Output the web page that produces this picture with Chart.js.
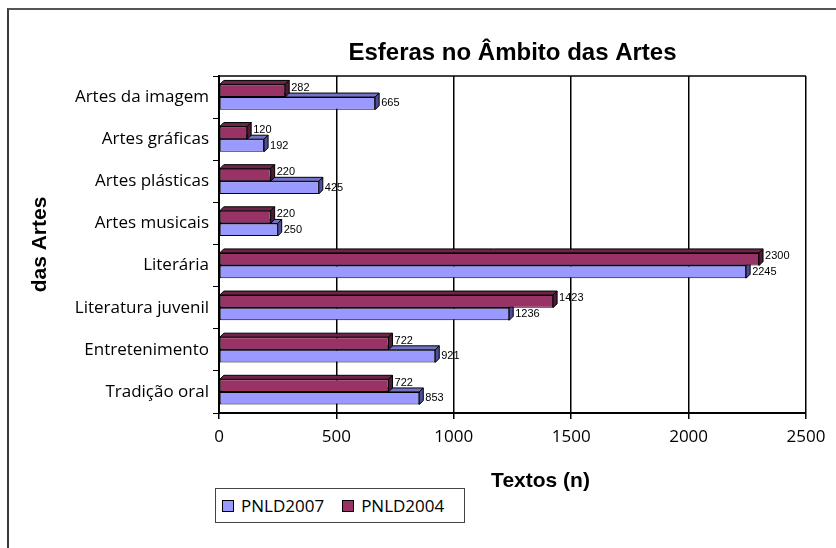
<!DOCTYPE html>
<html>
<head>
<meta charset="utf-8">
<script src="https://cdn.jsdelivr.net/npm/chart.js@4/dist/chart.umd.min.js"></script>
<style>
  html, body { margin:0; padding:0; background:#fff; overflow:hidden; }
  #frame { position:absolute; left:7px; top:8px; width:900px; height:600px;
           border-left:2px solid #3a3a3a; border-top:2px solid #555; }
  #wrap { position:absolute; left:0; top:0; width:836px; height:548px; }
  #legend { position:absolute; left:215px; top:488px; width:250px; height:35px;
            border:1px solid #444; background:#fff; font-family:"Open Sans", sans-serif;
            font-size:17px; color:#000; display:flex; align-items:center; box-sizing:border-box; padding-left:6px; }
  .item { display:flex; align-items:center; margin-right:18px; }
  .sw { width:10px; height:10px; border:1px solid #000; margin-right:7px; }
</style>
</head>
<body>
<div id="frame"></div>
<div id="wrap"><canvas id="c"></canvas></div>
<div id="legend"></div>
<script>
const categories = ["Artes da imagem","Artes gráficas","Artes plásticas","Artes musicais","Literária","Literatura juvenil","Entretenimento","Tradição oral"];
const pnld2004 = [282,120,220,220,2300,1423,722,722];
const pnld2007 = [665,192,425,250,2245,1236,921,853];
const xTicks = [0,500,1000,1500,2000,2500];
const chartTitle = "Esferas no Âmbito das Artes";
const xTitle = "Textos (n)";
const yTitle = "das Artes";

const styles = {
  PNLD2004: { front:"#993366", top:"#6e2449", side:"#4f1a35" },
  PNLD2007: { front:"#9999FF", top:"#7373c7", side:"#4d4d99" }
};
const depth = 4;

const bar3d = {
  id:"bar3d",
  beforeDatasetsDraw(chart){
    const {ctx, chartArea:a} = chart;
    ctx.save();
    ctx.strokeStyle="#000"; ctx.lineWidth=1.5;
    ctx.beginPath(); ctx.moveTo(a.left, a.top); ctx.lineTo(a.right, a.top); ctx.stroke();
    ctx.restore();
  },
  afterDatasetDraw(chart, args){
    const ctx = chart.ctx;
    const ds = chart.data.datasets[args.index];
    const st = styles[ds.label];
    ctx.save();
    ctx.strokeStyle="#000"; ctx.lineWidth=1;
    args.meta.data.forEach(bar=>{
      const p = bar.getProps(["x","y","base","height"], true);
      const top = p.y - p.height/2, bottom = p.y + p.height/2;
      ctx.beginPath();
      ctx.moveTo(p.base, top); ctx.lineTo(p.base+depth, top-depth);
      ctx.lineTo(p.x+depth, top-depth); ctx.lineTo(p.x, top); ctx.closePath();
      ctx.fillStyle = st.top; ctx.fill(); ctx.stroke();
      ctx.beginPath();
      ctx.moveTo(p.x, top); ctx.lineTo(p.x+depth, top-depth);
      ctx.lineTo(p.x+depth, bottom-depth); ctx.lineTo(p.x, bottom); ctx.closePath();
      ctx.fillStyle = st.side; ctx.fill(); ctx.stroke();
    });
    ctx.restore();
  },
  afterDatasetsDraw(chart){
    const ctx = chart.ctx;
    ctx.save();
    ctx.font = '11px "Liberation Sans", Arial, sans-serif';
    ctx.fillStyle = "#000"; ctx.textAlign="left"; ctx.textBaseline="middle";
    chart.data.datasets.forEach((ds,i)=>{
      chart.getDatasetMeta(i).data.forEach((bar,j)=>{
        const p = bar.getProps(["x","y"], true);
        ctx.fillText(String(ds.data[j]), p.x + depth + 2, p.y + (i===0 ? -3 : 0));
      });
    });
    ctx.restore();
  },
  afterDraw(chart){
    const {ctx, chartArea:a} = chart;
    ctx.save();
    ctx.fillStyle="#000"; ctx.textAlign="center"; ctx.textBaseline="middle";
    ctx.font = 'bold 24px "Liberation Sans", Arial, sans-serif';
    ctx.fillText(chartTitle, (a.left+a.right)/2, 53);
    ctx.font = 'bold 21px "Liberation Sans", Arial, sans-serif';
    ctx.fillText(xTitle, (a.left+a.right)/2 + 28, 481);
    ctx.restore();
  }
};

new Chart(document.getElementById("c"), {
  type:"bar",
  data:{
    labels:categories,
    datasets:[
      { label:"PNLD2004", data:pnld2004, backgroundColor:styles.PNLD2004.front, borderColor:"#000", borderWidth:1, borderSkipped:false },
      { label:"PNLD2007", data:pnld2007, backgroundColor:styles.PNLD2007.front, borderColor:"#000", borderWidth:1, borderSkipped:false }
    ]
  },
  plugins:[bar3d],
  options:{
    indexAxis:"y",
    responsive:true, maintainAspectRatio:false, animation:false,
    categoryPercentage:0.6, barPercentage:1,
    layout:{ padding:{ left:0, right:30, top:76, bottom:0 } },
    plugins:{ legend:{display:false}, title:{display:false}, tooltip:{enabled:false} },
    scales:{
      x:{
        min:0, max:2500,
        afterBuildTicks(s){ s.ticks = xTicks.map(v=>({value:v})); },
        ticks:{ color:"#000", padding:8, font:{ family:"Open Sans", size:17 }, callback:(v)=>String(v) },
        grid:{ color:"#000", lineWidth:1.5, drawTicks:true, tickLength:6, tickColor:"#000" },
        border:{ display:true, color:"#000", width:2 },
        afterFit(s){ s.height = 135; }
      },
      y:{
        ticks:{ color:"#000", padding:4, font:{ family:"Open Sans", size:17 } },
        grid:{ drawOnChartArea:false, drawTicks:true, tickLength:6, color:"#000", offset:true },
        border:{ display:true, color:"#000", width:2 },
        title:{ display:true, text:yTitle, color:"#000", font:{ family:"Liberation Sans", size:21, weight:"bold" }, padding:{ top:28, bottom:0 } },
        afterFit(s){ s.width = 219; }
      }
    }
  }
});

const leg = document.getElementById("legend");
[["PNLD2007", styles.PNLD2007.front], ["PNLD2004", styles.PNLD2004.front]].forEach(([name,col])=>{
  const it = document.createElement("div"); it.className="item";
  const sw = document.createElement("div"); sw.className="sw"; sw.style.background=col;
  const tx = document.createElement("span"); tx.textContent=name;
  it.appendChild(sw); it.appendChild(tx); leg.appendChild(it);
});
</script>
</body>
</html>
